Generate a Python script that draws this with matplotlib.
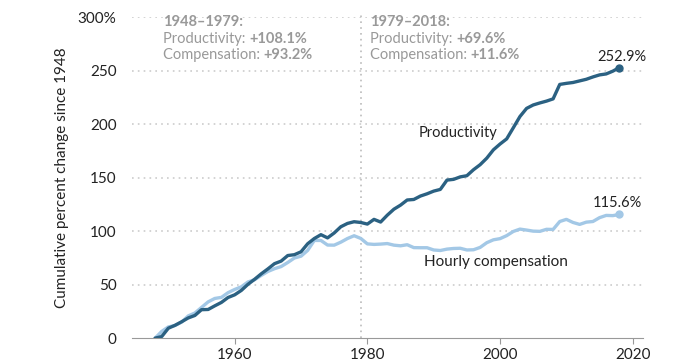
import matplotlib.pyplot as plt
from matplotlib import font_manager

years = list(range(1948, 2019))

productivity = [
	0.0, 1.5, 9.3, 12.0, 15.3, 18.9, 21.2, 26.6, 26.8, 30.2,
	33.4, 38.0, 40.5, 44.6, 50.3, 55.0, 60.1, 64.7, 69.6, 72.0,
	77.2, 78.0, 80.7, 88.2, 93.1, 96.7, 93.7, 98.3, 104.1, 107.2,
	108.8, 108.1, 106.6, 111.0, 108.5, 114.9, 120.5, 124.3, 129.1, 129.6,
	132.8, 134.9, 137.4, 139.0, 147.7, 148.4, 150.7, 151.8, 157.4, 162.1,
	168.2, 176.0, 181.4, 186.2, 196.6, 207.1, 214.7, 217.9, 219.8, 221.5,
	223.6, 237.1, 238.1, 238.9, 240.4, 241.9, 244.1, 246.0, 246.9, 249.5,
	252.9,
]

compensation = [
	0.0, 6.3, 10.5, 11.8, 15.0, 20.8, 23.5, 28.7, 33.9, 37.1,
	38.1, 42.5, 45.5, 48.0, 52.5, 54.6, 58.6, 62.3, 64.9, 66.9,
	70.7, 74.9, 76.6, 82.0, 91.3, 91.3, 87.0, 86.9, 89.7, 93.1,
	95.7, 93.2, 88.1, 87.6, 87.9, 88.4, 86.9, 86.3, 87.3, 84.6,
	84.5, 84.5, 82.4, 81.9, 83.2, 83.8, 84.0, 82.4, 82.6, 84.8,
	89.2, 91.9, 93.0, 95.8, 99.7, 101.9, 101.0, 100.0, 99.8, 101.7,
	101.6, 109.0, 111.0, 108.1, 106.3, 108.4, 109.0, 112.6, 114.7, 114.5,
	115.6,
]

y_ticks = [0, 50, 100, 150, 200, 250, 300]
y_labels = ["0", "50", "100", "150", "200", "250", "300%"]
x_ticks = [1960, 1980, 2000, 2020]

periods = ["1948–1979:", "1979–2018:"]
prod_change = ["+108.1%", "+69.6%"]
comp_change = ["+93.2%", "+11.6%"]

dark = "#2b6182"
light = "#a3c8e6"
grey = "#999999"
ink = "#222222"

# pick a family that has a real bold face
fam = "Lato"
bold_ok = False
for f in font_manager.fontManager.ttflist:
	if f.name == "Lato" and f.weight in (700, "bold"):
		bold_ok = True
if not bold_ok:
	fam = "Open Sans"
plt.rcParams['font.family'] = [fam, 'DejaVu Sans']

fig = plt.figure(figsize=(6.94, 3.64), dpi=100)
ax = fig.add_axes([0.19, 0.071, 0.737, 0.882])

for y in y_ticks[1:]:
	ax.axhline(y, color="#cccccc", lw=1.2, ls=(0, (1, 2.5)), zorder=0)
ax.axvline(1979, ymin=0, ymax=1.01, color="#bbbbbb", lw=1.2, ls=(0, (1, 2.5)), zorder=0, clip_on=False)

ax.plot(years, compensation, color=light, lw=2.4, solid_capstyle="round", zorder=2)
ax.plot(years, productivity, color=dark, lw=2.4, solid_capstyle="round", zorder=3)
ax.plot(years[-1], compensation[-1], "o", color=light, ms=5, zorder=2)
ax.plot(years[-1], productivity[-1], "o", color=dark, ms=5, zorder=3)

ax.set_xlim(1944.5, 2021.6)
ax.set_ylim(0, 300)
ax.set_yticks(y_ticks)
ax.set_yticklabels(y_labels)
ax.set_xticks(x_ticks)
ax.tick_params(axis="y", length=0, labelsize=11, pad=11, colors=ink)
ax.tick_params(axis="x", length=4, color="#999999", labelsize=11, pad=3, labelcolor=ink)
for s in ["top", "right", "left"]:
	ax.spines[s].set_visible(False)
ax.spines["bottom"].set_color("#999999")
ax.set_ylabel("Cumulative percent change since 1948", fontsize=11, color=ink, labelpad=6)

# period notes: plain label followed by bold number
fs = 10.5
for x0, per, p, c in zip([1949.2, 1980.4], periods, prod_change, comp_change):
	ax.text(x0, 295, per, fontsize=fs, fontweight="bold", color=grey, va="center")
	t1 = ax.text(x0, 280, "Productivity: ", fontsize=fs, color=grey, va="center")
	t2 = ax.text(x0, 265, "Compensation: ", fontsize=fs, color=grey, va="center")
	ax.annotate(p, xy=(1, 0.5), xycoords=t1, va="center", fontsize=fs, fontweight="bold", color=grey)
	ax.annotate(c, xy=(1, 0.5), xycoords=t2, va="center", fontsize=fs, fontweight="bold", color=grey)

ax.text(1987.7, 192, "Productivity", fontsize=10.5, color=ink, va="center")
ax.text(1988.6, 71, "Hourly compensation", fontsize=11, color=ink, va="center")
ax.text(2018.3, 256, "252.9%", fontsize=10.5, color=ink, va="bottom", ha="center")
ax.text(2017.7, 120, "115.6%", fontsize=10.5, color=ink, va="bottom", ha="center")

fig.savefig("out.png", dpi=100)
